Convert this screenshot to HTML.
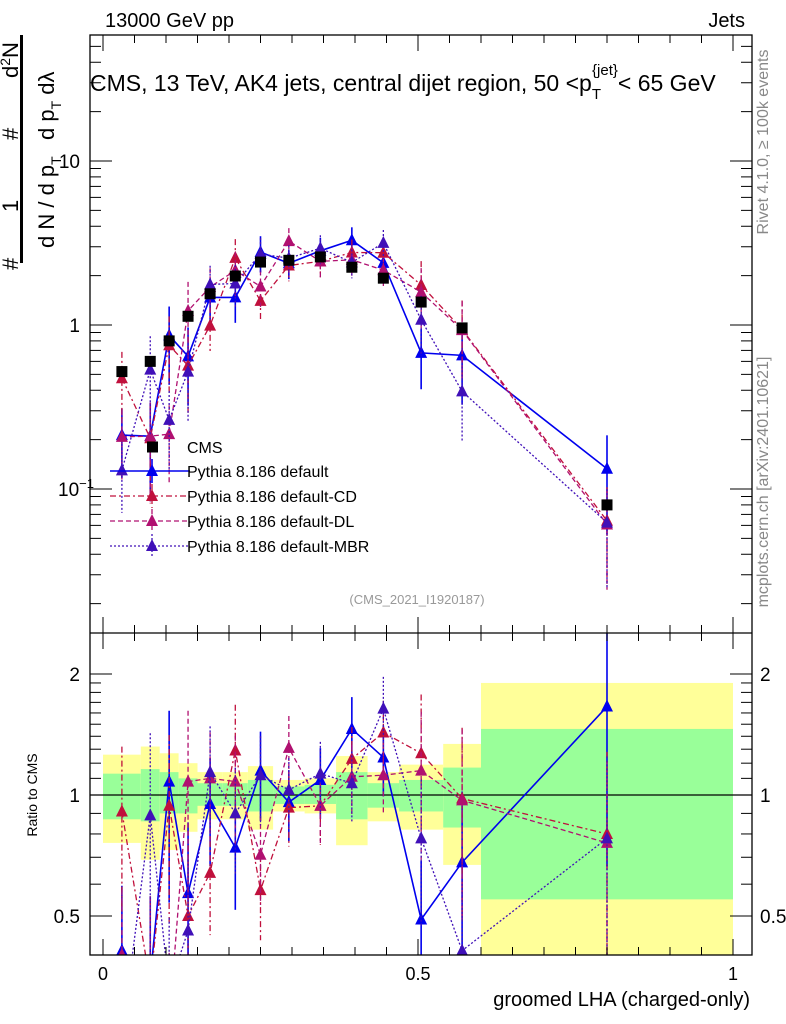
<!DOCTYPE html>
<html><head><meta charset="utf-8"><style>
html,body{margin:0;background:#fff;overflow:hidden;width:786px;height:1024px;}
svg{display:block;font-family:"Liberation Sans",sans-serif;}
</style></head><body>
<svg id="c" width="786" height="1024" viewBox="0 0 786 1024" xmlns="http://www.w3.org/2000/svg">
<text x="105" y="27" font-size="20">13000 GeV pp</text>
<text x="745" y="27" font-size="20" text-anchor="end">Jets</text>
<text x="90" y="91" font-size="23">CMS, 13 TeV, AK4 jets, central dijet region, 50 &lt;p<tspan font-size="15" dy="8">T</tspan><tspan font-size="15" dx="-9" dy="-24">{jet}</tspan><tspan dy="16">&lt; 65 GeV</tspan></text>
<g>
<text transform="translate(18,270) rotate(-90)" font-size="22">#</text>
<text transform="translate(18,212) rotate(-90)" font-size="22">1</text>
<text transform="translate(54,248) rotate(-90)" font-size="22">d N / d p<tspan font-size="14" dy="7">T</tspan></text>
<text transform="translate(18,140) rotate(-90)" font-size="22">#</text>
<text transform="translate(18,78) rotate(-90)" font-size="22">d<tspan font-size="14" dy="-8">2</tspan><tspan dy="8">N</tspan></text>
<text transform="translate(54,140) rotate(-90)" font-size="22">d p<tspan font-size="14" dy="7">T</tspan><tspan dy="-7">  dλ</tspan></text>
</g>
<rect x="20" y="35" width="3" height="228" fill="#000"/>
<text transform="translate(37,795) rotate(-90)" font-size="14" text-anchor="middle">Ratio to CMS</text>
<text transform="translate(768,142) rotate(-90)" font-size="16" fill="#888" text-anchor="middle">Rivet 4.1.0, ≥ 100k events</text>
<text transform="translate(768,482) rotate(-90)" font-size="16" fill="#888" text-anchor="middle">mcplots.cern.ch [arXiv:2401.10621]</text>
<text x="417" y="604" font-size="13" fill="#999" text-anchor="middle">(CMS_2021_I1920187)</text>
<text x="750" y="1006" font-size="20" text-anchor="end">groomed LHA (charged-only)</text>
<g id="g"></g>
</svg>
<script>
const edges=[0,0.06,0.09,0.12,0.15,0.19,0.23,0.27,0.32,0.37,0.42,0.47,0.54,0.6,1.0];
const cms=[0.52,0.60,0.80,1.13,1.55,1.99,2.42,2.48,2.6,2.25,1.93,1.38,0.96,0.08];
const yelHi=[1.26,1.32,1.27,1.2,1.14,1.14,1.18,1.09,1.1,1.25,1.14,1.19,1.34,1.9];
const yelLo=[0.76,0.69,0.73,0.81,0.87,0.87,0.82,0.91,0.9,0.75,0.86,0.82,0.67,0.3];
const grnHi=[1.13,1.16,1.14,1.1,1.07,1.07,1.09,1.05,1.06,1.14,1.07,1.09,1.17,1.46];
const grnLo=[0.87,0.86,0.9,0.9,0.94,0.94,0.91,0.95,0.95,0.87,0.93,0.91,0.83,0.55];
const rDefault=[0.41,0.35,1.08,0.57,0.95,0.74,1.15,0.96,1.09,1.46,1.24,0.49,0.68,1.66];
const rCD=[0.91,0.34,0.94,0.50,0.64,1.29,0.58,0.93,0.94,1.23,1.43,1.27,0.98,0.80];
const rDL=[0.40,0.35,0.27,1.08,1.10,1.08,0.71,1.31,0.94,1.11,1.12,1.15,0.97,0.76];
const rMBR=[0.25,0.89,0.33,0.46,1.14,0.90,1.12,1.03,1.13,1.07,1.64,0.78,0.41,0.78];
const relErr=[0.45,0.6,0.5,0.5,0.3,0.3,0.25,0.2,0.2,0.2,0.2,0.4,0.5,0.6];
const xTicks=[0,0.5,1];const xTickLabels=["0","0.5","1"];
const NS="http://www.w3.org/2000/svg";const G=document.getElementById('g');
const X=v=>103+630*v;
const YM=v=>325-164*Math.log10(v);
const YR=r=>795-121*Math.log2(r);
const L=90,R=752,T=35,M=633,B=955;
function mk(t,a,p){const e=document.createElementNS(NS,t);for(const k in a)e.setAttribute(k,a[k]);(p||G).appendChild(e);return e;}
function clip(id,y1,y2){const d=mk('clipPath',{id:id});mk('rect',{x:L,y:y1,width:R-L,height:y2-y1},d);}
clip('cm',T,M);clip('cr',M,B);
const gm=mk('g',{'clip-path':'url(#cm)'});
const gr=mk('g',{'clip-path':'url(#cr)'});
for(let i=0;i<cms.length;i++){
 const x1=X(edges[i]),x2=X(edges[i+1]);
 const y=mk('rect',{x:x1,y:YR(yelHi[i]),width:x2-x1,height:YR(yelLo[i])-YR(yelHi[i]),fill:'#ffff99'},gr);
 
 
 const g=mk('rect',{x:x1,y:YR(grnHi[i]),width:x2-x1,height:YR(grnLo[i])-YR(grnHi[i]),fill:'#99ff99'},gr);
 
 
}
mk('line',{x1:L,x2:R,y1:YR(1),y2:YR(1),stroke:'#000','stroke-width':1.3},gr);
const ctr=i=>(edges[i]+edges[i+1])/2;
function tri(p,x,y,c){return mk('path',{d:`M${x-6},${y+5}L${x+6},${y+5}L${x},${y-7}Z`,fill:c},p);}
const series=[
 {r:rDefault,c:'#0000ee',dash:'',name:'Pythia 8.186 default',w:1.6},
 {r:rCD,c:'#c0103c',dash:'6,3,2,3',name:'Pythia 8.186 default-CD',w:1.3},
 {r:rDL,c:'#b01070',dash:'5,3',name:'Pythia 8.186 default-DL',w:1.3},
 {r:rMBR,c:'#4010b8',dash:'2,2',name:'Pythia 8.186 default-MBR',w:1.3}];
series.forEach((s,si)=>{
 const sm=mk('g',{},gm);
 const sr=mk('g',{},gr);
 let pm='',pr='';
 s.r.forEach((r,i)=>{const v=r*cms[i],x=X(ctr(i));pm+=(i?'L':'M')+x+','+YM(v);pr+=(i?'L':'M')+x+','+YR(r);});
 mk('path',{d:pm,fill:'none',stroke:s.c,'stroke-width':s.w,'stroke-dasharray':s.dash},sm);
 mk('path',{d:pr,fill:'none',stroke:s.c,'stroke-width':s.w,'stroke-dasharray':s.dash},sr);
 s.r.forEach((r,i)=>{const v=r*cms[i],x=X(ctr(i)),e=relErr[i];
  const hi=v*(1+e),lo=Math.max(v*(1-e),1e-4);
  mk('line',{x1:x,x2:x,y1:YM(hi),y2:YM(lo),stroke:s.c,'stroke-width':s.w,'stroke-dasharray':s.dash},sm);
  mk('line',{x1:x,x2:x,y1:YR(r*(1+e)),y2:YR(Math.max(r*(1-e),1e-4)),stroke:s.c,'stroke-width':s.w,'stroke-dasharray':s.dash},sr);
  const t=tri(sm,x,YM(v),s.c);
  const t2=tri(sr,x,YR(r),s.c);
 });
});
cms.forEach((v,i)=>{const x=X(ctr(i));
 mk('line',{x1:x,x2:x,y1:YM(v*1.06),y2:YM(v*0.94),stroke:'#000'},gm);
 const r=mk('rect',{x:x-5.5,y:YM(v)-5.5,width:11,height:11,fill:'#000'},gm);
 
 
});
const lg=mk('g',{});
const ly=[447,471,496,521,546];
const le0=mk('g',{},lg);
mk('rect',{x:147,y:ly[0]-5.5,width:11,height:11,fill:'#000'},le0);
mk('text',{x:187,y:ly[0]+6,'font-size':16},le0).textContent='CMS';
series.forEach((s,si)=>{const y=ly[si+1];const le=mk('g',{},lg);
 
 mk('line',{x1:110,x2:190,y1:y,y2:y,stroke:s.c,'stroke-width':s.w,'stroke-dasharray':s.dash},le);
 mk('line',{x1:152,x2:152,y1:y-12,y2:y+12,stroke:s.c,'stroke-width':s.w,'stroke-dasharray':s.dash},le);
 tri(le,152,y,s.c);
 mk('text',{x:187,y:y+6,'font-size':16},le).textContent=s.name;});
const fr=mk('g',{});
mk('rect',{x:L,y:T,width:R-L,height:B-T,fill:'none',stroke:'#000','stroke-width':1.3},fr);
mk('line',{x1:L,x2:R,y1:M,y2:M,stroke:'#000','stroke-width':1.3},fr);
for(let k=0;k<=20;k++){const v=k*0.05,x=X(v),maj=k%10==0,len=maj?16:8;
 [T,M].forEach(y=>mk('line',{x1:x,x2:x,y1:y,y2:y+len,stroke:'#000'},fr));
 [M,B].forEach(y=>mk('line',{x1:x,x2:x,y1:y,y2:y-len,stroke:'#000'},fr));}
xTicks.forEach((v,i)=>{const t=mk('text',{x:X(v),y:980,'font-size':18,'text-anchor':'middle'},fr);t.textContent=xTickLabels[i];});
for(let d=-2;d<=1;d++)for(let m=1;m<10;m++){const v=m*Math.pow(10,d),y=YM(v);if(y<T||y>M)continue;const len=m==1?22:11;
 mk('line',{x1:L,x2:L+len,y1:y,y2:y,stroke:'#000'},fr);mk('line',{x1:R,x2:R-len,y1:y,y2:y,stroke:'#000'},fr);}
const yl=[[10,'10'],[1,'1']];yl.forEach(a=>{mk('text',{x:80,y:YM(a[0])+7,'font-size':19,'text-anchor':'end'},fr).textContent=a[1];});
const t10=mk('text',{x:58,y:YM(0.1)+7,'font-size':19},fr);t10.innerHTML='10<tspan font-size="13" dy="-8">−1</tspan>';
[0.5,0.6,0.7,0.8,0.9,1,1.1,1.2,1.3,1.4,1.5,1.6,1.7,1.8,1.9,2].forEach(v=>{const y=YR(v);const maj=(v==0.5||v==1||v==2),len=maj?22:11;
 mk('line',{x1:L,x2:L+len,y1:y,y2:y,stroke:'#000'},fr);mk('line',{x1:R,x2:R-len,y1:y,y2:y,stroke:'#000'},fr);});
[[2,'2'],[1,'1'],[0.5,'0.5']].forEach(a=>{mk('text',{x:80,y:YR(a[0])+7,'font-size':19,'text-anchor':'end'},fr).textContent=a[1];
 mk('text',{x:760,y:YR(a[0])+7,'font-size':19},fr).textContent=a[1];});
</script>
</body></html>
